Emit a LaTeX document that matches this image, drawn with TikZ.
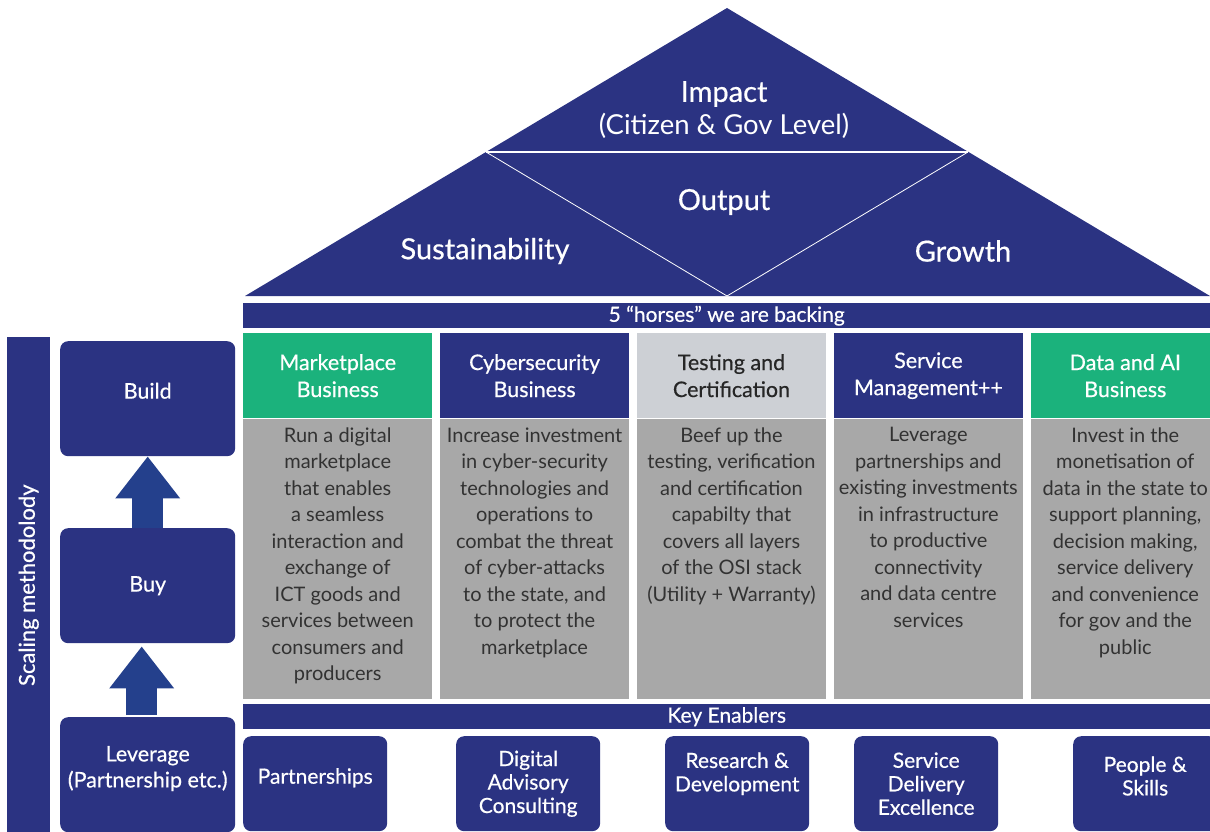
\documentclass[tikz,border=0pt]{standalone}
\usepackage{fontspec}
\setmainfont{Lato}
\newfontfamily\headfont{Lato}[FakeBold=0.5]
\usetikzlibrary{positioning,arrows.meta}
\definecolor{navy}{RGB}{43,51,130}
\definecolor{mint}{RGB}{27,178,124}
\definecolor{pale}{RGB}{205,208,213}
\definecolor{stone}{RGB}{168,168,168}
\definecolor{ink}{RGB}{50,50,50}
\definecolor{arrowblue}{RGB}{36,64,140}
\begin{document}
\begin{tikzpicture}[x=1pt, y=-1pt,
	head/.style = {minimum width=189pt, minimum height=85pt, inner sep=0pt, align=center, text=white, font=\headfont\fontsize{21.5}{27}\selectfont},
	body/.style = {fill=stone, minimum width=189pt, minimum height=280pt, inner sep=0pt},
	desc/.style = {align=center, text=ink, inner sep=0pt, font=\fontsize{20}{26.5}\selectfont},
	bar/.style = {fill=navy, minimum width=967pt, minimum height=25pt, inner sep=0pt, text=white, anchor=north west, font=\headfont\fontsize{21}{22}\selectfont},
	stepbox/.style = {fill=navy, rounded corners=8pt, minimum width=175pt, minimum height=115pt, inner sep=0pt, text=white, align=center, anchor=north west, font=\headfont\fontsize{21.5}{26}\selectfont},
	enabler/.style = {fill=navy, rounded corners=8pt, minimum width=144pt, minimum height=95pt, inner sep=0pt, text=white, align=center, anchor=north west, font=\headfont\fontsize{21}{23.5}\selectfont},
	roof/.style = {text=white, font=\headfont\fontsize{29}{32}\selectfont},
	up/.style = {draw=arrowblue, line width=31pt, -{Triangle[width=62pt,length=42pt]}}
	]
	\useasboundingbox (0,0) rectangle (1210,832);

	% roof
	\coordinate (apex) at (727,8);
	\coordinate (eaveL) at (245,296);
	\coordinate (eaveR) at (1210,296);
	\coordinate (midL) at (486,152);
	\coordinate (midR) at (968,152);
	\coordinate (low) at (727,296);
	\fill[navy] (eaveL) -- (apex) -- (eaveR) -- cycle;
	\draw[white, line width=2pt] (midL) -- (midR);
	\draw[white, line width=0.8pt] (midL) -- (low) -- (midR);
	\node[roof] (impact) at (724,94) {Impact};
	\node[text=white, font=\fontsize{27.5}{32}\selectfont] (level) at (724,126) {(Citizen \& Gov Level)};
	\node[roof] (output) at (724,202) {Output};
	\node[roof] (sustain) at (485,251) {Sustainability};
	\node[roof] (growth) at (963,251) {Growth};

	% horses
	\node[bar] (horses) at (243,303) {5 “horses” we are backing};
	\node[head, fill=mint, anchor=north west] (market) at (243,333) {Marketplace\\Business};
	\node[head, fill=navy, right=7.5pt of market] (cyber) {Cybersecurity\\Business};
	\node[head, fill=pale, text=black!85, right=7.5pt of cyber] (testing) {Testing and\\Certification};
	\node[head, fill=navy, right=7.5pt of testing] (service) {Service\\Management++};
	\node[head, fill=mint, right=7.5pt of service] (data) {Data and AI\\Business};
	\node[body, below=0pt of market] (marketbody) {};
	\node[body, below=0pt of cyber] (cyberbody) {};
	\node[body, below=0pt of testing] (testingbody) {};
	\node[body, below=0pt of service] (servicebody) {};
	\node[body, below=0pt of data] (databody) {};
	\node[desc, below=9pt of marketbody.north] (marketdesc) {Run a digital\\marketplace\\that enables\\a seamless\\interaction and\\exchange of\\ICT goods and\\services between\\consumers and\\producers};
	\node[desc, below=9pt of cyberbody.north] (cyberdesc) {Increase investment\\in cyber-security\\technologies and\\operations to\\combat the threat\\of cyber-attacks\\to the state, and\\to protect the\\marketplace};
	\node[desc, below=9pt of testingbody.north] (testingdesc) {Beef up the\\testing, verification\\and certification\\capabilty that\\covers all layers\\of the OSI stack\\(Utility + Warranty)};
	\node[desc, below=9pt of servicebody.north] (servicedesc) {Leverage\\partnerships and\\existing investments\\in infrastructure\\to productive\\connectivity\\and data centre\\services};
	\node[desc, below=9pt of databody.north] (datadesc) {Invest in the\\monetisation of\\data in the state to\\support planning,\\decision making,\\service delivery\\and convenience\\for gov and the\\public};

	% enablers
	\node[bar] (keys) at (243,704) {Key Enablers};
	\node[enabler] (partner) at (243,736) {Partnerships\\[-8pt]\mbox{}};
	\node[enabler] (advisory) at (456,736) {Digital\\Advisory\\Consulting};
	\node[enabler] (research) at (665,736) {Research \&\\Development\\\mbox{}};
	\node[enabler] (delivery) at (854,736) {Service\\Delivery\\Excellence};
	\node[enabler] (people) at (1073,736) {People \&\\Skills\\[-8pt]\mbox{}};

	% scaling methodology
	\node[fill=navy, minimum width=43pt, minimum height=496pt, inner sep=0pt, anchor=north west] (scaling) at (7,337) {};
	\node[rotate=90, text=white, font=\headfont\fontsize{22}{24}\selectfont] (scalingtext) at (scaling) {Scaling methodolody};
	\node[stepbox] (build) at (60,341) {Build\\[-10pt]\mbox{}};
	\node[stepbox] (buy) at (60,528) {Buy};
	\node[stepbox] (lev) at (60,717) {Leverage\\(Partnership etc.)\\[-10pt]\mbox{}};
	\draw[up] (buy.north) -- (build.south);
	\draw[up, shorten <=2pt, shorten >=3pt] ([xshift=-6pt]lev.north) -- ([xshift=-6pt]buy.south);
\end{tikzpicture}
\end{document}
